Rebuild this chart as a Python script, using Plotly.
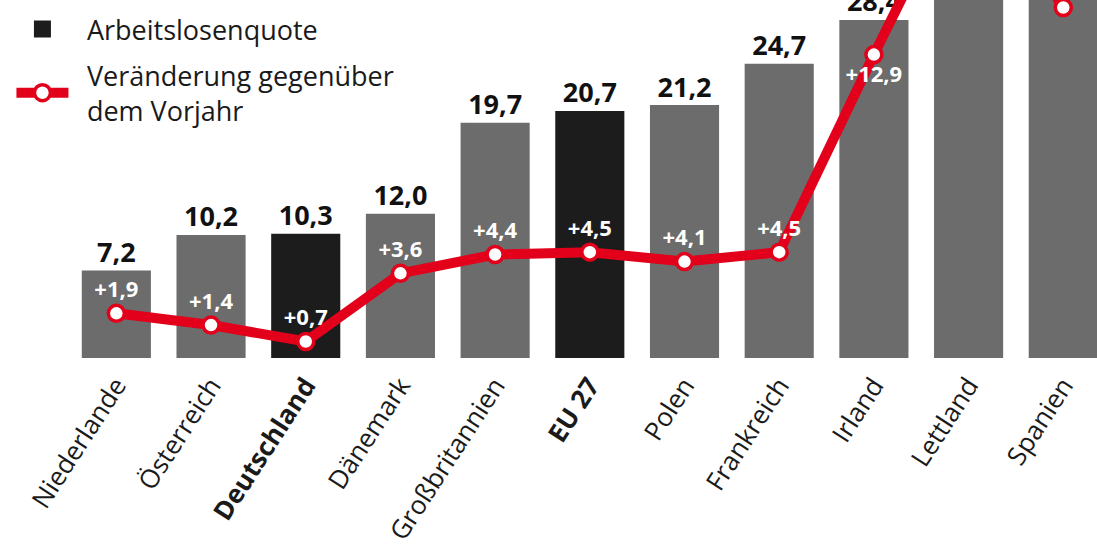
import plotly.graph_objects as go

# ---- data ----
categories = ["Niederlande", "Österreich", "Deutschland", "Dänemark", "Großbritannien",
              "EU 27", "Polen", "Frankreich", "Irland", "Lettland", "Spanien"]
quote = [7.2, 10.2, 10.3, 12.0, 19.7, 20.7, 21.2, 24.7, 28.4, 33.6, 37.8]
change = [1.9, 1.4, 0.7, 3.6, 4.4, 4.5, 4.1, 4.5, 12.9, 21.0, 14.9]
highlight = ["Deutschland", "EU 27"]
below_label = ["Irland"]

GRAY = "#6c6c6c"
BLACK = "#1c1c1c"
RED = "#e2001a"
FONT = "Open Sans"
SP = "\u2002"  # small lead-in space for legend texts


def de(v, sign=False):
    s = f"{v:+.1f}" if sign else f"{v:.1f}"
    return s.replace(".", ",")


grey_y = [None if c in highlight else v for c, v in zip(categories, quote)]
black_y = [v if c in highlight else None for c, v in zip(categories, quote)]
grey_txt = ["" if c in highlight else de(v) for c, v in zip(categories, quote)]
black_txt = [de(v) if c in highlight else "" for c, v in zip(categories, quote)]
change_txt = [de(v, sign=True) for v in change]
tick_text = [f"<b>{c}</b>" if c in highlight else c for c in categories]
line_text_pos = ["bottom center" if c in below_label else "top center" for c in categories]

fig = go.Figure()

bar_common = dict(
    x=categories,
    width=0.677,
    textposition="outside",
    constraintext="none",
    cliponaxis=True,
    textfont=dict(family=FONT, size=27, color="#111111", weight="bold"),
)
fig.add_trace(go.Bar(y=grey_y, text=grey_txt,
                     marker=dict(color=GRAY, line=dict(width=5, color=GRAY)),
                     showlegend=False, name="Arbeitslosenquote", legendgroup="a",
                     **bar_common))
fig.add_trace(go.Bar(y=black_y, text=black_txt,
                     marker=dict(color=BLACK, line=dict(width=5, color=BLACK)),
                     showlegend=True, name=SP + "Arbeitslosenquote", legendgroup="a",
                     **bar_common))

fig.add_trace(go.Scatter(
    x=categories, y=change, yaxis="y2",
    mode="lines+markers+text",
    name=SP + "Veränderung gegenüber<br>" + SP + "dem Vorjahr",
    legendgroup="b",
    line=dict(color=RED, width=10),
    marker=dict(size=16, color="white", line=dict(color=RED, width=3.5)),
    text=change_txt,
    textposition=line_text_pos,
    textfont=dict(family=FONT, size=22, color="white", weight="bold"),
    cliponaxis=True,
))

fig.update_layout(
    width=1097, height=544,
    margin=dict(l=69, r=0, t=0, b=186, autoexpand=False),
    paper_bgcolor="white", plot_bgcolor="white",
    barmode="overlay",
    font=dict(family=FONT, color="#1a1a1a"),
    xaxis=dict(
        type="category",
        range=[-0.5, 10.356],
        tickmode="array", tickvals=categories, ticktext=tick_text,
        tickangle=-57,
        tickfont=dict(family=FONT, size=26, color="#1a1a1a"),
        ticks="outside", ticklen=1, tickcolor="rgba(0,0,0,0)",
        showline=False, showgrid=False, zeroline=False,
        automargin=False,
    ),
    yaxis=dict(range=[0, 30.3], visible=False, showgrid=False, zeroline=False),
    yaxis2=dict(range=[0, 15.22], overlaying="y", visible=False,
                showgrid=False, zeroline=False),
    legend=dict(
        x=-0.056, y=0.986, xanchor="left", yanchor="top",
        font=dict(family=FONT, size=27, color="#1a1a1a"),
        itemwidth=52, traceorder="grouped", tracegroupgap=8,
        bgcolor="rgba(0,0,0,0)",
    ),
)

fig.write_html("out.html", config={"displayModeBar": False},
               post_script="document.body.style.margin='0';")
